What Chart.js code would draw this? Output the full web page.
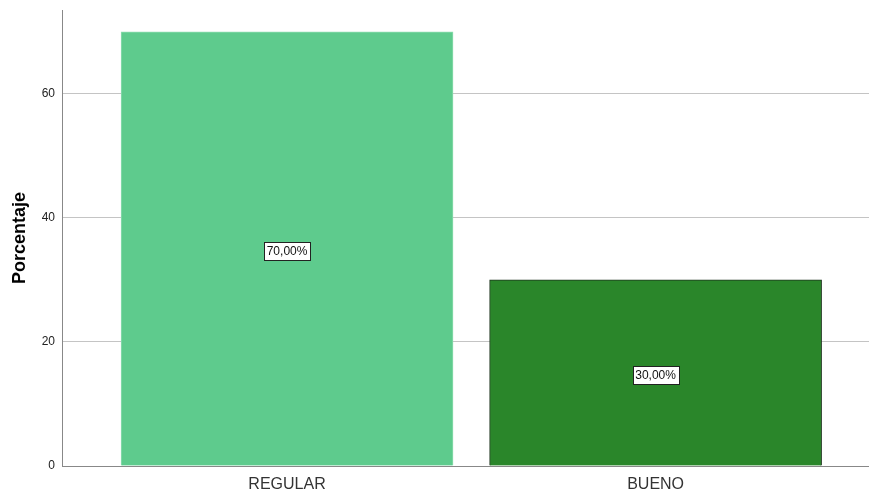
<!DOCTYPE html>
<html>
<head>
<meta charset="utf-8">
<script src="https://cdn.jsdelivr.net/npm/chart.js@4"></script>
<style>
  html, body { margin: 0; padding: 0; background: #ffffff; }
  #wrap { width: 869px; height: 495px; }
</style>
</head>
<body>
<div id="wrap"><canvas id="chart" width="869" height="495"></canvas></div>
<script>
// Distribución porcentual por categoría
const categories = ['REGULAR', 'BUENO'];
const percentages = [70, 30];
const barColors = ['#5ECB8D', '#2A862A'];
const barBorders = ['#8EDDB0', '#1C331C'];
const yTicks = [0, 20, 40, 60];

const points = percentages.map((v, i) => ({ x: i, y: v }));

// Etiquetas de valor en recuadro blanco, centradas en cada barra
const valueBoxes = {
  id: 'valueBoxes',
  afterDatasetsDraw(chart) {
    const ctx = chart.ctx;
    const meta = chart.getDatasetMeta(0);
    ctx.save();
    ctx.font = '12px "Liberation Sans", Arial, sans-serif';
    ctx.textAlign = 'center';
    ctx.textBaseline = 'middle';
    meta.data.forEach((bar, i) => {
      const text = percentages[i].toFixed(2).replace('.', ',') + '%';
      const cx = bar.x;
      const cy = (bar.y + bar.base) / 2 + 2;
      const w = ctx.measureText(text).width + 5;
      const h = 18;
      const x0 = Math.round(cx - w / 2) + 0.5;
      const y0 = Math.round(cy - h / 2) + 0.5;
      ctx.fillStyle = '#ffffff';
      ctx.fillRect(x0, y0, Math.round(w), h);
      ctx.strokeStyle = '#222222';
      ctx.lineWidth = 1;
      ctx.strokeRect(x0, y0, Math.round(w), h);
      ctx.fillStyle = '#111111';
      ctx.fillText(text, cx, cy + 1);
    });
    ctx.restore();
  }
};

new Chart(document.getElementById('chart'), {
  type: 'bar',
  data: {
    datasets: [{
      data: points,
      backgroundColor: barColors,
      borderColor: barBorders,
      borderWidth: 1,
      barThickness: 332
    }]
  },
  options: {
    responsive: false,
    animation: false,
    layout: { padding: { top: 10, right: 0, bottom: 0, left: 0 } },
    plugins: {
      legend: { display: false },
      tooltip: { enabled: false }
    },
    scales: {
      x: {
        type: 'linear',
        offset: false,
        min: -0.6106,
        max: 1.579,
        afterBuildTicks(scale) {
          scale.ticks = categories.map((_, i) => ({ value: i }));
        },
        afterFit(scale) {
          scale.height = 29;
          scale.paddingLeft = 0;
          scale.paddingRight = 0;
        },
        grid: { display: false, drawTicks: false, offset: false },
        border: { display: true, color: '#888888', width: 1 },
        ticks: {
          padding: 9,
          color: '#333333',
          font: { family: '"Liberation Sans", Arial, sans-serif', size: 16 },
          callback: (v) => categories[v] ?? ''
        }
      },
      y: {
        min: 0,
        max: 73.5,
        afterBuildTicks(scale) {
          scale.ticks = yTicks.map(v => ({ value: v }));
        },
        afterFit(scale) {
          scale.width = 62;
          scale.paddingTop = 0;
          scale.paddingBottom = 0;
        },
        grid: { color: '#C4C4C4', lineWidth: 1, drawTicks: false },
        border: { display: true, color: '#888888', width: 1 },
        ticks: {
          padding: 7,
          color: '#222222',
          font: { family: '"Liberation Sans", Arial, sans-serif', size: 12 }
        },
        title: {
          display: true,
          text: 'Porcentaje',
          color: '#000000',
          padding: { top: 9, bottom: 0 },
          font: { family: '"Liberation Sans", Arial, sans-serif', size: 18, weight: 'bold' }
        }
      }
    }
  },
  plugins: [valueBoxes]
});
</script>
</body>
</html>
